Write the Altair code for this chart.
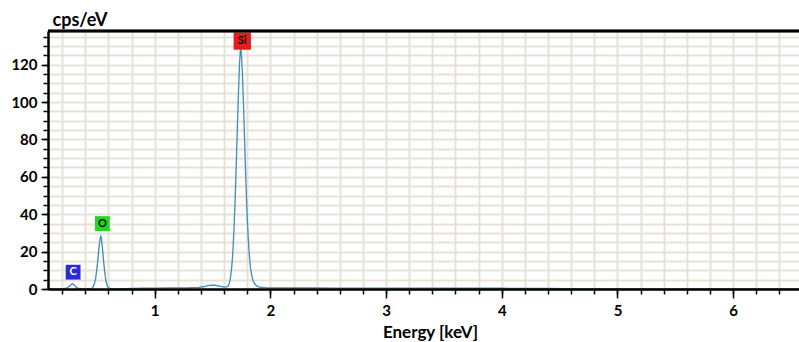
import altair as alt
import pandas as pd

# Spectrum
energy = [0.078, 0.15, 0.20, 0.24, 0.26, 0.275, 0.29, 0.305, 0.32, 0.34, 0.38,
          0.44, 0.46, 0.47, 0.48, 0.49, 0.50, 0.51, 0.52, 0.53, 0.535, 0.54, 0.55,
          0.56, 0.57, 0.58, 0.59, 0.60, 0.62, 0.70, 0.80, 0.90, 1.00, 1.10, 1.20,
          1.30, 1.38, 1.42, 1.46, 1.49, 1.52, 1.56, 1.60, 1.62, 1.635, 1.645, 1.655,
          1.665, 1.675, 1.685, 1.695, 1.705, 1.715, 1.725, 1.733, 1.740, 1.745, 1.750,
          1.758, 1.768, 1.778, 1.788, 1.798, 1.808, 1.818, 1.828, 1.838, 1.85, 1.865,
          1.88, 1.90, 1.93, 1.97, 2.05, 2.2, 2.4, 2.6, 2.8, 3.0, 3.2, 3.4, 3.6, 3.8,
          4.0, 4.2, 4.4, 4.55, 4.7, 5.5, 6.569]
counts = [0, 0, 0.1, 0.4, 1.3, 2.3, 2.8, 2.2, 1.1, 0.3, 0,
          0.1, 0.5, 1.3, 3.0, 5.8, 10.5, 16.5, 23, 27.5, 28.3, 27, 21,
          14, 8, 4, 1.8, 0.7, 0.1, 0, 0.3, 0.45, 0.5, 0.55, 0.6,
          0.7, 0.9, 1.2, 1.8, 2.1, 2.0, 1.5, 1.0, 1.1, 1.6, 3.0, 6.0,
          11, 19, 31, 47, 66, 87, 106, 120, 127, 128.5, 125,
          116, 98, 78, 58, 41, 28, 18, 11.5, 7.5, 4.5, 2.8,
          1.8, 1.1, 0.8, 0.6, 0.6, 0.55, 0.55, 0.5, 0.5, 0.5, 0.45, 0.45, 0.4, 0.4,
          0.4, 0.35, 0.3, 0.2, 0, 0, 0]

# Element markers
elements = ["C", "O", "Si"]
elem_energy = [0.295, 0.548, 1.757]
elem_level = [9.0, 35.0, 132.6]
elem_color = ["#2a2ad8", "#22d822", "#e81c1c"]
elem_text_color = ["white", "black", "black"]
elem_size = [220, 220, 300]

x_minor = [0.2, 0.4, 0.6, 0.8, 1.0, 1.2, 1.4, 1.6, 1.8, 2.0, 2.2, 2.4, 2.6, 2.8,
           3.0, 3.2, 3.4, 3.6, 3.8, 4.0, 4.2, 4.4, 4.6, 4.8, 5.0, 5.2, 5.4, 5.6,
           5.8, 6.0, 6.2, 6.4]
x_major = [1, 2, 3, 4, 5, 6]
y_minor = [0, 5, 10, 15, 20, 25, 30, 35, 40, 45, 50, 55, 60, 65, 70, 75, 80, 85,
           90, 95, 100, 105, 110, 115, 120, 125, 130, 135]
y_major = [0, 20, 40, 60, 80, 100, 120]

spec = pd.DataFrame({"energy": energy, "counts": counts})
el = pd.DataFrame({"el": elements, "e": elem_energy, "v": elem_level,
                   "c": elem_color, "tc": elem_text_color, "s": elem_size})

FONT = "Lato"
W, H = 751, 258
xs = alt.Scale(domain=[0.078, 6.569], nice=False, zero=False)
ys = alt.Scale(domain=[0, 138], nice=False, zero=False)

line = alt.Chart(spec).mark_line(color="#3f8db5", strokeWidth=1.3, clip=True).encode(
    x=alt.X("energy:Q", scale=xs, axis=alt.Axis(
        values=x_minor, labels=False, title=None, orient="bottom", domain=False,
        tickSize=5, tickColor="black", tickWidth=1.5, grid=True,
        gridColor="#e6e2d8", gridWidth=2, zindex=0)),
    y=alt.Y("counts:Q", scale=ys, axis=alt.Axis(
        values=y_minor, labels=False, title=None, orient="left", domain=False,
        tickSize=5, tickColor="black", tickWidth=1.5, grid=True,
        gridColor="#e6e2d8", gridWidth=2, zindex=0)),
)

boxes = alt.Chart(el).mark_point(shape="square", filled=True, opacity=1).encode(
    x=alt.X("e:Q", scale=xs, axis=alt.Axis(
        values=x_major, format="d", title="Energy [keV]", orient="bottom",
        domain=True, domainColor="black", domainWidth=2.5, tickSize=9,
        tickColor="black", tickWidth=1.5, grid=False, labelFont=FONT,
        labelFontSize=15, labelFontWeight="bold", labelColor="black",
        labelPadding=5, titleFont=FONT, titleFontSize=17,
        titleFontWeight="bold", titleColor="black", titleX=382, titleY=52,
        titleBaseline="bottom", zindex=1)),
    y=alt.Y("v:Q", scale=ys, axis=alt.Axis(
        values=y_major, title="cps/eV", orient="left", domain=True,
        domainColor="black", domainWidth=2.5, tickSize=7, tickColor="black",
        tickWidth=1.5, grid=False, labelFont=FONT, labelFontSize=15,
        labelFontWeight="bold", labelColor="black", labelPadding=4,
        titleFont=FONT, titleFontSize=18, titleFontWeight="bold",
        titleColor="black", titleAngle=0, titleX=4, titleY=-6,
        titleAlign="left", titleBaseline="alphabetic", zindex=1)),
    color=alt.Color("c:N", scale=None),
    size=alt.Size("s:Q", scale=None),
)

texts = alt.Chart(el).mark_text(font=FONT, fontSize=11, fontWeight="bold").encode(
    x=alt.X("e:Q", scale=xs, axis=None),
    y=alt.Y("v:Q", scale=ys, axis=None),
    text="el:N",
    color=alt.Color("tc:N", scale=None),
)

top_border = alt.Chart(el).mark_rule(color="black", strokeWidth=2.5).encode(
    x=alt.value(0), x2=alt.value(W), y=alt.value(0)
)

chart = alt.layer(line, boxes, texts, top_border).resolve_axis(
    x="independent", y="independent"
).properties(
    width=W, height=H,
    autosize=alt.AutoSizeParams(type="none"),
    padding={"left": 48, "top": 31, "right": 0, "bottom": 53},
).configure_view(stroke=None).configure(background="white")

chart.save("out.html", embed_options={"renderer": "svg", "actions": False})
